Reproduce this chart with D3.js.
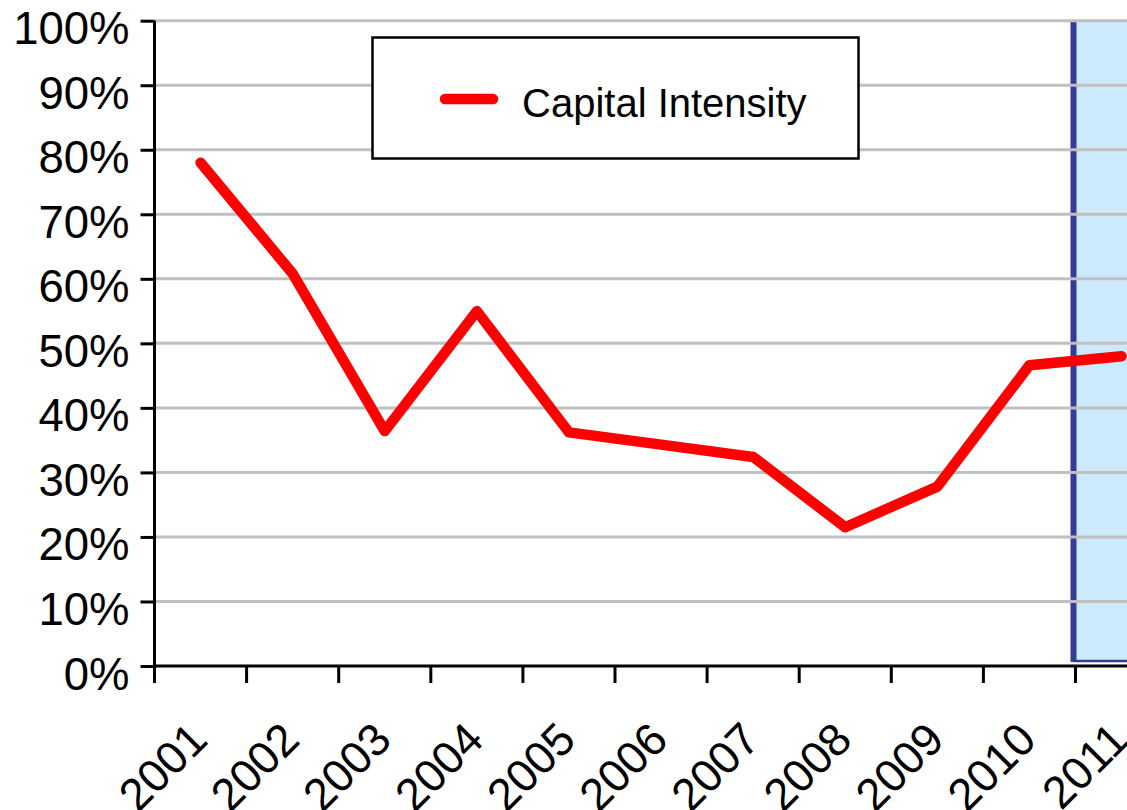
<!DOCTYPE html>
<html>
<head>
<meta charset="utf-8">
<script src="https://cdn.jsdelivr.net/npm/d3@7"></script>
<style>
  html, body { margin: 0; padding: 0; background: #fff; }
  svg { display: block; }
  text { font-family: "Liberation Sans", Arial, sans-serif; fill: #000; }
</style>
</head>
<body>
<svg id="chart" width="1127" height="810"></svg>
<script>
// Capital intensity by year
const years = ["2001","2002","2003","2004","2005","2006","2007","2008","2009","2010","2011"];
const capitalIntensity = [78, 60.8, 36.4, 55, 36.2, 34.3, 32.4, 21.5, 27.8, 46.6, 48];
const yTicks = [0, 10, 20, 30, 40, 50, 60, 70, 80, 90, 100];
const seriesName = "Capital Intensity";
const highlightYear = "2011";

const svg = d3.select("#chart");
const W = 1127, H = 810;

const x = d3.scaleBand().domain(years).range([154.5, 154.5 + 92.1 * years.length]).paddingInner(0).paddingOuter(0);
const y = d3.scaleLinear().domain([0, 100]).range([666, 20.7]);

// shaded forecast band
const hx = x(highlightYear);
svg.append("rect")
  .attr("x", hx).attr("y", y(100) + 1)
  .attr("width", W - hx + 10).attr("height", y(0) - 5 - (y(100) + 1))
  .attr("fill", "#cdeafd");
svg.append("line")
  .attr("x1", hx - 2).attr("x2", W + 5)
  .attr("y1", y(0) - 5).attr("y2", y(0) - 5)
  .attr("stroke", "#353c93").attr("stroke-width", 2.5);
svg.append("line")
  .attr("x1", hx - 2).attr("x2", hx - 2)
  .attr("y1", y(100) + 1).attr("y2", y(0) - 4)
  .attr("stroke", "#353c93").attr("stroke-width", 6);

// horizontal gridlines
svg.append("g")
  .selectAll("line")
  .data(yTicks.filter(d => d > 0))
  .join("line")
  .attr("x1", 154.5).attr("x2", W)
  .attr("y1", d => y(d)).attr("y2", d => y(d))
  .attr("stroke", "#c0c0c0").attr("stroke-width", 3);

// y axis
const yAxis = d3.axisLeft(y).tickValues(yTicks).tickSize(14).tickPadding(11).tickFormat(d => d + "%");
const gy = svg.append("g").attr("transform", "translate(154.5,0)").call(yAxis);
gy.select(".domain").attr("stroke", "#000").attr("stroke-width", 3).attr("d", `M0,${y(100)}V${y(0)}`);
gy.selectAll(".tick line").attr("stroke", "#000").attr("stroke-width", 3);
gy.selectAll(".tick text")
  .attr("font-size", 45.5)
  .attr("font-family", "'Liberation Sans', Arial, sans-serif")
  .attr("fill", "#000")
  .attr("dy", null)
  .attr("y", 23);

// x axis: ticks on band boundaries
const gx = svg.append("g");
gx.append("line")
  .attr("x1", 154.5 - 1.5).attr("x2", W)
  .attr("y1", y(0)).attr("y2", y(0))
  .attr("stroke", "#000").attr("stroke-width", 3);
gx.selectAll("line.tk")
  .data(years)
  .join("line")
  .attr("class", "tk")
  .attr("x1", d => x(d)).attr("x2", d => x(d))
  .attr("y1", y(0)).attr("y2", y(0) + 17)
  .attr("stroke", "#000").attr("stroke-width", 3);
gx.selectAll("text")
  .data(years)
  .join("text")
  .attr("text-anchor", "end")
  .attr("font-size", 45.5)
  .attr("transform", d => `translate(${x(d) + x.bandwidth() / 2 + 9},742) rotate(-45)`)
  .text(d => d);

// series line
const line = d3.line()
  .x((d, i) => x(years[i]) + x.bandwidth() / 2)
  .y(d => y(d));
svg.append("path")
  .datum(capitalIntensity)
  .attr("d", line)
  .attr("fill", "none")
  .attr("stroke", "#ff0000")
  .attr("stroke-width", 10.5)
  .attr("stroke-linejoin", "round")
  .attr("stroke-linecap", "round");

// legend
const lg = svg.append("g");
lg.append("rect")
  .attr("x", 372.5).attr("y", 37.5).attr("width", 486).attr("height", 121)
  .attr("fill", "#fff").attr("stroke", "#000").attr("stroke-width", 2.5);
lg.append("line")
  .attr("x1", 445).attr("x2", 493).attr("y1", 99).attr("y2", 99)
  .attr("stroke", "#ff0000").attr("stroke-width", 10.5).attr("stroke-linecap", "round");
lg.append("text")
  .attr("x", 522).attr("y", 117)
  .attr("font-size", 40)
  .text(seriesName);
</script>
</body>
</html>
